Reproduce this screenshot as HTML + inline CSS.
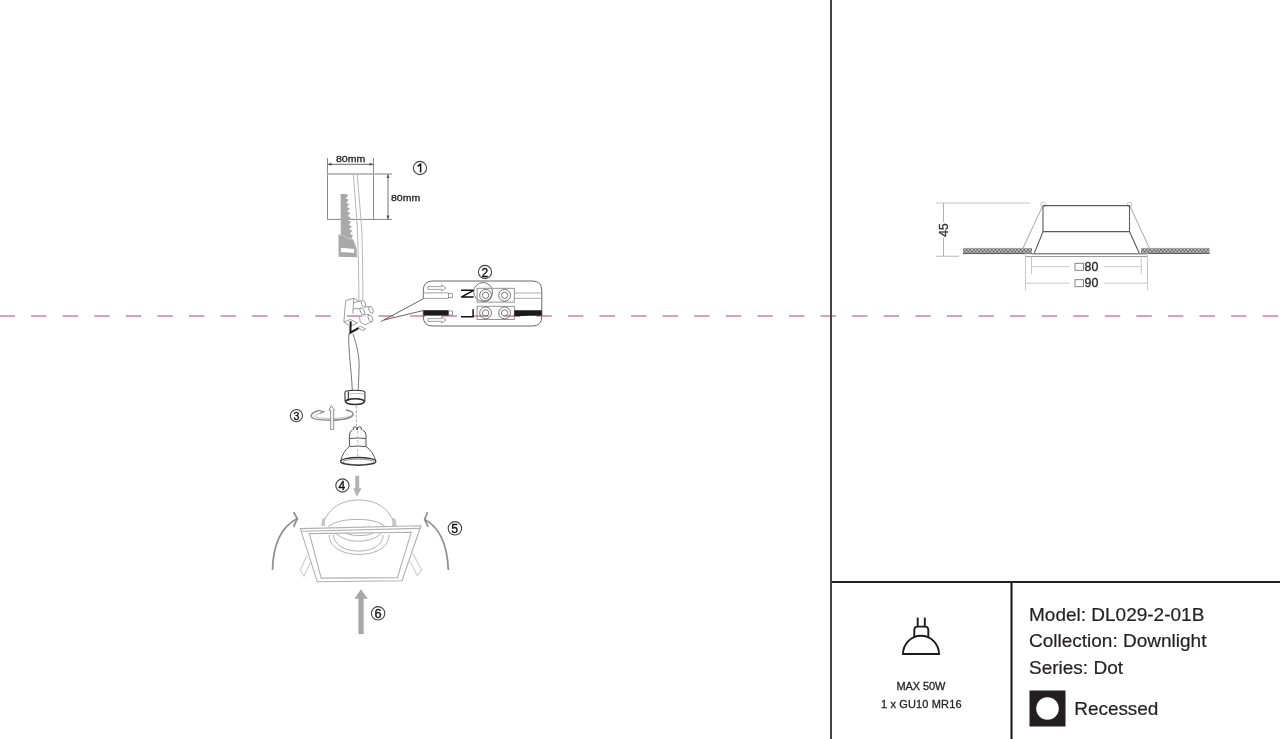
<!DOCTYPE html>
<html><head><meta charset="utf-8">
<style>
html,body{margin:0;padding:0;background:#fff;width:1280px;height:739px;overflow:hidden;}
svg{position:absolute;left:0;top:0;will-change:transform;}
text{font-family:"Liberation Sans",sans-serif;}
</style></head>
<body>
<svg width="1280" height="739" viewBox="0 0 1280 739">
<!-- right panel text -->
<g fill="#231f20">
<g stroke="#231f20" stroke-width="0.2">
<text x="1029" y="620.6" font-size="19">Model: DL029-2-01B</text>
<text x="1029" y="647.3" font-size="19">Collection: Downlight</text>
<text x="1029" y="673.8" font-size="19">Series: Dot</text>
<text x="1074.3" y="715" font-size="19" textLength="84">Recessed</text>
</g>
<rect x="1029.5" y="690.5" width="36" height="36" fill="#231f20"/>
<circle cx="1047.5" cy="708.5" r="11.3" fill="#fff"/>
<g stroke="#231f20" stroke-width="0.3">
<text x="921" y="690.2" font-size="11" text-anchor="middle" textLength="49">MAX 50W</text>
<text x="921.3" y="708.2" font-size="11" text-anchor="middle" textLength="80.5">1 x GU10 MR16</text>
</g>
</g>
<!-- bulb icon -->
<g fill="none" stroke="#1e1a1b" stroke-width="1.9">
<line x1="917.7" y1="617.6" x2="917.7" y2="626.5"/>
<line x1="924.8" y1="617.6" x2="924.8" y2="626.5"/>
<path d="M914.3 637 V630 Q914.3 626.6 917.8 626.6 H924.8 Q928.3 626.6 928.3 630 V637"/>
<path d="M903 654 A18 18.3 0 0 1 939 654 Z"/>
</g>

<!-- right side drawing -->
<defs>
<pattern id="hatch" width="3.6" height="3.6" patternUnits="userSpaceOnUse" y="248">
<rect width="3.6" height="3.6" fill="#c4c4c4"/>
<path d="M0 3.6 L3.6 0 M0 0 L3.6 3.6" stroke="#5a5a5a" stroke-width="0.8"/>
</pattern>
</defs>
<g>
<!-- dims 45 -->
<line x1="936" y1="203" x2="1030" y2="203" stroke="#c4c4c4" stroke-width="1.2"/>
<line x1="936" y1="256.3" x2="959" y2="256.3" stroke="#c4c4c4" stroke-width="1.2"/>
<line x1="943.5" y1="203" x2="943.5" y2="222" stroke="#b0b0b0" stroke-width="1"/>
<line x1="943.5" y1="238" x2="943.5" y2="256" stroke="#b0b0b0" stroke-width="1"/>
<text transform="translate(948,230) rotate(-90)" font-size="12" text-anchor="middle" fill="#333" stroke="#333" stroke-width="0.35">45</text>
<!-- ceiling hatch -->
<rect x="963" y="248.3" width="69" height="5.6" fill="url(#hatch)"/>
<line x1="963" y1="248.4" x2="1032" y2="248.4" stroke="#999" stroke-width="0.7"/>
<line x1="963" y1="253.6" x2="1032" y2="253.6" stroke="#555" stroke-width="0.9"/>
<rect x="1141" y="248.3" width="68.5" height="5.4" fill="url(#hatch)"/>
<line x1="1141" y1="248.4" x2="1209.5" y2="248.4" stroke="#999" stroke-width="0.7"/>
<line x1="1141" y1="253.5" x2="1209.5" y2="253.5" stroke="#555" stroke-width="0.9"/>
<!-- springs -->
<line x1="1023" y1="248.2" x2="1043" y2="205" stroke="#b4b4b4" stroke-width="1.1"/>
<line x1="1149.4" y1="248.2" x2="1129.5" y2="205" stroke="#b4b4b4" stroke-width="1.1"/>
<circle cx="1043" cy="204.5" r="2.3" fill="#fff" stroke="#bbb" stroke-width="0.9"/>
<circle cx="1129.5" cy="204.5" r="2.3" fill="#fff" stroke="#bbb" stroke-width="0.9"/>
<!-- housing -->
<g fill="none" stroke="#5c5c5c" stroke-width="1.1">
<path d="M1043 205.6 H1129.5 V231.6 L1139.4 253.4 M1043 205.6 V231.6 L1034.2 253.4 M1043 231.6 H1129.5"/>
</g>
<line x1="1032" y1="253.7" x2="1147.5" y2="253.7" stroke="#8a8a8a" stroke-width="1.4"/>
<line x1="1025.4" y1="256.5" x2="1147.5" y2="256.5" stroke="#9a9a9a" stroke-width="1.1"/>
<line x1="1025.4" y1="253" x2="1032" y2="253" stroke="#9a9a9a" stroke-width="1"/>
<!-- ext lines -->
<g stroke="#c8c8c8" stroke-width="1">
<line x1="1025.5" y1="253" x2="1025.5" y2="290"/>
<line x1="1147.5" y1="253" x2="1147.5" y2="290"/>
<line x1="1031.5" y1="256.5" x2="1031.5" y2="274"/>
<line x1="1141.3" y1="256.5" x2="1141.3" y2="274"/>
<line x1="1032" y1="266.7" x2="1069.5" y2="266.7"/>
<line x1="1104" y1="266.7" x2="1141" y2="266.7"/>
<line x1="1026" y1="283.2" x2="1069.5" y2="283.2"/>
<line x1="1104" y1="283.2" x2="1147" y2="283.2"/>
</g>
<g fill="none" stroke="#777" stroke-width="0.9">
<rect x="1075" y="263.3" width="8.5" height="7"/>
<rect x="1075" y="279.7" width="8.5" height="7"/>
</g>
<text x="1084.6" y="270.7" font-size="12.4" fill="#222" stroke="#222" stroke-width="0.3">80</text>
<text x="1084.6" y="287" font-size="12.4" fill="#222" stroke="#222" stroke-width="0.3">90</text>
</g>

<!-- pink dashed line -->
<line x1="0" y1="316" x2="1280" y2="316" stroke="#d8a0ba" stroke-width="2" stroke-dasharray="15.4 16.18" stroke-dashoffset="0.5"/>
<!-- LEFT DRAWING -->
<g id="left">
<!-- step 1: cutout -->
<g stroke="#8a8a8a" stroke-width="1" fill="none">
<line x1="327.5" y1="158" x2="327.5" y2="219.5"/>
<line x1="373.5" y1="158" x2="373.5" y2="219.5"/>
<line x1="327.5" y1="164.3" x2="373.5" y2="164.3" stroke="#666"/>
<line x1="327" y1="174" x2="392" y2="174" stroke="#a8a8a8" stroke-width="1.6"/>
<line x1="327" y1="219.4" x2="392" y2="219.4" stroke="#888"/>
<line x1="388" y1="174" x2="388" y2="219.4" stroke="#777"/>
</g>
<g fill="#555">
<path d="M327.5 164.3 l4 -1.5 v3 z M373.5 164.3 l-4 -1.5 v3 z"/>
<path d="M388 174 l-1.5 4 h3 z M388 219.4 l-1.5 -4 h3 z"/>
</g>
<text x="336" y="162" font-size="9.8" fill="#222" stroke="#222" stroke-width="0.3" textLength="29.3" lengthAdjust="spacingAndGlyphs">80mm</text>
<text x="391" y="201" font-size="9.8" fill="#222" stroke="#222" stroke-width="0.3" textLength="29.3" lengthAdjust="spacingAndGlyphs">80mm</text>
<!-- saw -->
<path fill="#a9a9a9" d="M340.6 194 L345.2 194 L348.4 195.0 L345.7 198.4 L348.9 199.4 L346.2 202.9 L349.4 203.9 L346.7 207.3 L349.9 208.3 L347.2 211.8 L350.4 212.8 L347.7 216.2 L350.9 217.2 L348.2 220.7 L351.4 221.7 L348.7 225.1 L351.9 226.2 L349.2 229.6 L352.4 230.6 L349.7 234.0 L352.9 235.1 L351.5 238.5 L353 239.1 L356.6 248.2 L357 257.2 L338.6 256.8 L338.5 234.6 L340.8 234.4 Z"/>
<path fill="#fff" d="M340.9 247.7 L354.2 249 L353.9 252.9 Q347 252 340.9 252.3 Z"/>
<path fill="none" stroke="#d4d4d4" stroke-width="0.9" d="M338.8 234.6 Q343.5 235 345.5 236.8 Q348 239.2 353 239.3"/>
<!-- cable top -->
<g fill="none" stroke="#b8b8b8" stroke-width="1">
<path d="M353.4 174 L357.5 230 Q358.7 270 359 300"/>
<path d="M357.2 174 L361.8 230 Q363 270 362.8 300"/>
</g>
<!-- circled 1 -->
<circle cx="420" cy="168" r="6.6" fill="none" stroke="#444" stroke-width="1.1"/>
<path d="M417.5 166.3 Q420 165.2 420.6 163.6 V172.6" fill="none" stroke="#111" stroke-width="1.5"/>

<!-- terminal block -->
<g fill="none" stroke="#8e8e8e" stroke-width="0.85">
<path d="M345.7 300.5 L353.7 298.2 L359.5 301.5 M345.7 300.5 L343.9 322 L348.9 325.5 M353.7 298.5 L352.8 313.6"/>
<path d="M353.4 302.9 L361 300.6 M353.1 308.9 L360.2 308.3 M364.4 306.8 L369.8 306.8 M363.5 315 L369 314.5"/>
<path d="M343.9 322 L350.5 319.5 L357.5 323 L350.5 326.3"/>
<path d="M372.1 321.4 L365 325 L360.2 322 L359.5 317"/>
<path d="M360.2 326.1 L365.6 329.1 L363.2 330.6 L357.9 327.9 Z"/>
<ellipse cx="363.5" cy="303.8" rx="1.9" ry="3.7" transform="rotate(-25 363.5 303.8)"/>
<ellipse cx="362.3" cy="311.3" rx="1.9" ry="3.7" transform="rotate(-25 362.3 311.3)"/>
<ellipse cx="371" cy="309.8" rx="1.9" ry="3.7" transform="rotate(-25 371 309.8)"/>
<ellipse cx="370.4" cy="318.4" rx="1.9" ry="3.7" transform="rotate(-25 370.4 318.4)"/>
</g>
<path d="M350.7 321.4 L350.4 332.7 L358.5 328.2" fill="none" stroke="#1a1a1a" stroke-width="2"/>
<!-- leader lines to box -->
<g stroke="#555" stroke-width="0.9">
<line x1="381" y1="321.5" x2="423.3" y2="298.8"/>
<line x1="384" y1="320" x2="423.3" y2="310.5"/>
</g>
<!-- lower cable -->
<g fill="none" stroke="#777" stroke-width="1">
<path d="M348.9 333.3 C348 350 351.5 370 352.3 390.5"/>
<path d="M352.9 334 C357 345 359.5 358 359.1 368 C358.8 378 358.3 385 358.3 390.5"/>
</g>
<!-- wiring box 2 -->
<path d="M423.3 298.8 V290.5 Q423.3 281 432.8 281 H532.3 Q541.8 281 541.8 290.5 V316.5 Q541.8 326 532.3 326 H432.8 Q423.3 326 423.3 316.5 V310" fill="none" stroke="#666" stroke-width="1"/>
<circle cx="485" cy="272" r="6.6" fill="none" stroke="#444" stroke-width="1.1"/>
<text x="484.8" y="276.5" font-size="12" text-anchor="middle" fill="#111" stroke="#111" stroke-width="0.35">2</text>
<!-- magnifier circle -->
<circle cx="483.1" cy="291.9" r="9.4" fill="none" stroke="#666" stroke-width="0.9"/>
<!-- terminals -->
<g fill="none" stroke="#888" stroke-width="0.9">
<rect x="477.1" y="288.3" width="37.2" height="13.8"/>
<rect x="477.1" y="306.3" width="37.2" height="13.2"/>
</g>
<g fill="none" stroke="#666" stroke-width="0.9">
<circle cx="485.6" cy="295.3" r="5.9"/><circle cx="485.6" cy="295.3" r="3.2"/>
<circle cx="504.6" cy="295.3" r="5.9"/><circle cx="504.6" cy="295.3" r="3.2"/>
<circle cx="485.6" cy="312.9" r="5.9"/><circle cx="485.6" cy="312.9" r="3.2"/>
<circle cx="504.6" cy="312.9" r="5.9"/><circle cx="504.6" cy="312.9" r="3.2"/>
</g>
<!-- N and L (rotated) -->
<path d="M461 290.3 L473.6 290.3 L461.2 297.1 L473.6 297.1" fill="none" stroke="#111" stroke-width="1.5"/>
<path d="M461 316.8 L473.1 316.8 L473.1 309.3" fill="none" stroke="#111" stroke-width="1.5"/>
<!-- wires in box -->
<g fill="#fff" stroke="#888" stroke-width="0.8">
<rect x="423.5" y="292.9" width="25" height="5.4"/>
<rect x="448.5" y="293.6" width="4" height="4"/>
<rect x="448.5" y="311" width="4" height="4"/>
</g>
<rect x="423.5" y="310.2" width="25" height="5.4" fill="#1a1a1a"/>
<g stroke="#999" stroke-width="0.8">
<line x1="514.3" y1="293" x2="541.5" y2="293"/>
<line x1="514.3" y1="298.3" x2="541.5" y2="298.3"/>
</g>
<path d="M514.3 310.2 H541.8 V315.8 L530 315.8 L514.3 316.2 Z" fill="#1a1a1a"/>
<!-- arrows in box -->
<g fill="none" stroke="#888" stroke-width="0.8">
<path d="M428 286.6 H441.5 V284.8 L446 288 L441.5 291.2 V289.4 H428 Z"/>
<path d="M428 318.6 H441.5 V316.8 L446 320 L441.5 323.2 V321.4 H428 Z"/>
</g>

<!-- socket -->
<g fill="none" stroke="#333" stroke-width="1.1">
<path d="M346.5 391 Q355 389.6 363.5 391 Q365 391.5 365 393 L364.8 401.5 M346.5 391 Q344.9 391.5 344.9 393 L345.1 401.5"/>
<line x1="348.3" y1="391.5" x2="348.3" y2="401"/>
<path d="M349 394 Q355 392.8 364 394" stroke="#999" stroke-width="0.6"/>
</g>
<ellipse cx="355" cy="401.6" rx="9.4" ry="2.9" fill="none" stroke="#2a2a2a" stroke-width="1.5"/>
<line x1="356.3" y1="406" x2="356.3" y2="426" stroke="#8a8a8a" stroke-width="0.8" stroke-dasharray="2.5 2"/>
<!-- circled 3 -->
<circle cx="296.4" cy="415.6" r="6.1" fill="none" stroke="#444" stroke-width="1.1"/>
<text x="296.4" y="419.5" font-size="10.5" text-anchor="middle" fill="#111" stroke="#111" stroke-width="0.35">3</text>
<!-- rotation arrow -->
<g fill="none" stroke="#8a8a8a" stroke-width="1">
<path d="M318.7 410.6 Q311.5 412.5 311.2 416 Q311.5 420.2 331 420.2 Q350 419.8 352.9 415 Q353.8 411 345.8 410" stroke-width="1.5"/>
<path d="M319.5 413.3 Q315 414.5 314.5 416.3 Q315.5 418.3 331 418.4 Q347 418.2 350.5 415.5" stroke="#b0b0b0" stroke-width="0.8"/>
<path d="M318.5 410.3 L323.8 411.6 L319.5 413.5" stroke-width="1.1"/>
<path d="M331.2 405.6 L328.9 410.2 H330.6 V429.6 H333.7 V410.2 H334.6 Z" stroke="#8a8a8a" stroke-width="0.9" fill="#f4f4f4"/>
</g>
<!-- bulb -->
<g fill="none" stroke="#555" stroke-width="1">
<path d="M353.3 430 v-2.6 q1.7 -1.2 3.4 0 v2.6 M357.5 430 v-2.6 q1.9 -1.2 3.8 0 v2.6"/>
<path d="M352.5 430 Q349.4 431.5 349.4 435 V446.5 M366 435 V446.5 M366 435 Q366 431.5 362.5 430"/>
<path d="M349.5 438.6 Q357.7 437.3 365.9 438.6"/>
<path d="M349.4 446.5 Q343 451.5 340.7 460.8 M366 446.5 Q373 451.5 375.8 460.8"/>
<path d="M349.5 446.6 Q357.7 445.5 365.9 446.6"/>
<ellipse cx="358.3" cy="461.9" rx="15.5" ry="2.7" stroke="#777" stroke-width="0.8"/>
</g>
<ellipse cx="358.25" cy="461.4" rx="17.6" ry="3.9" fill="none" stroke="#333" stroke-width="1.3"/>
<line x1="357.7" y1="431" x2="357.7" y2="459" stroke="#999" stroke-width="0.7" stroke-dasharray="2.5 2"/>

<!-- step 4 -->
<circle cx="342.4" cy="485.5" r="6.6" fill="none" stroke="#444" stroke-width="1.1"/>
<text x="341.9" y="489.75" font-size="12" text-anchor="middle" fill="#111" stroke="#111" stroke-width="0.35">4</text>
<path d="M355.3 475.7 H359.2 V488.2 H361.6 L356.9 496.7 L353.1 488.2 H355.3 Z" fill="#b2b2b2"/>
<!-- downlight dome -->
<g fill="none" stroke="#b0b0b0" stroke-width="1">
<path d="M323 526 C326 510 340 500 358.6 500 C378 500 391 510 394.6 526"/>
<path d="M328.3 526.5 C336 521 347 519.4 357 519.4 C368 519.4 379 521 385.1 526.5"/>
<path d="M329.2 535 C329 547 342 554.4 359 554.4 C376 554.4 389 547 388.9 535"/>
<path d="M333.5 535 C334 545 345 551.1 358.5 551.1 C372 551.1 383 545 383.2 535"/>
<path d="M335.8 533.5 C342 539 350 541.2 358.5 541.2 C367 541.2 375 539 381.3 533.5"/>
<path d="M346.3 533.5 C350 535 354 535.5 359.5 535.5 C365 535.5 369 535 372.8 533.5"/>
</g>
<g fill="#c4c4c4">
<path d="M321.2 526 L322.2 519 L324.5 517.5 L325.2 526 Z"/>
<path d="M396.5 526 L395.5 519 L392.5 517.5 L392.2 526 Z"/>
</g>
<!-- frame -->
<g fill="none" stroke="#b0b0b0" stroke-width="1.1">
<path d="M300.3 528.6 L420.9 525.8 L402 580.8 L317.3 581.8 Z"/>
<path d="M309.4 533.6 L411.2 532.3 L397.4 577.6 L321.2 578.1 Z"/>
<path d="M301.8 531.2 L419.8 528.4"/>
</g>
<!-- springs -->
<g fill="none" stroke="#cdcdcd" stroke-width="1.1">
<path d="M307 555.4 L300.3 570 L304 576 L310.7 562"/>
<path d="M413 553.6 L421.5 570 L417.3 575.5 L410 561.5"/>
</g>
<!-- curved arrows -->
<g fill="none" stroke="#8e8e8e" stroke-width="1.7">
<path d="M272.5 570 C273 548 279 528 297.3 518.5"/>
<path d="M293.6 512.2 L297.3 518.5 L293.6 526.8"/>
<path d="M448.3 570 C447.5 548 441 528 424.6 519.5"/>
<path d="M427.6 512.2 L424.6 519.5 L428.2 526.8"/>
</g>
<!-- circled 5 -->
<circle cx="454.9" cy="528.3" r="6.7" fill="none" stroke="#444" stroke-width="1.1"/>
<text x="454.75" y="532.6" font-size="12.3" text-anchor="middle" fill="#111" stroke="#111" stroke-width="0.35">5</text>
<!-- step 6 arrow -->
<path d="M358.4 634 V598.7 H354.4 L361 589.3 L367.8 598.7 H363.7 V634 Z" fill="#a8a8a8"/>
<circle cx="378.1" cy="613.3" r="6.7" fill="none" stroke="#444" stroke-width="1.1"/>
<text x="378.15" y="617.7" font-size="12.8" text-anchor="middle" fill="#111" stroke="#111" stroke-width="0.35">6</text>
</g>

<!-- frame lines -->
<rect x="830" y="0" width="2" height="739" fill="#444"/>
<rect x="832" y="581" width="448" height="2" fill="#222"/>
<rect x="1010.5" y="583" width="2" height="156" fill="#111"/>

</svg>
</body></html>
